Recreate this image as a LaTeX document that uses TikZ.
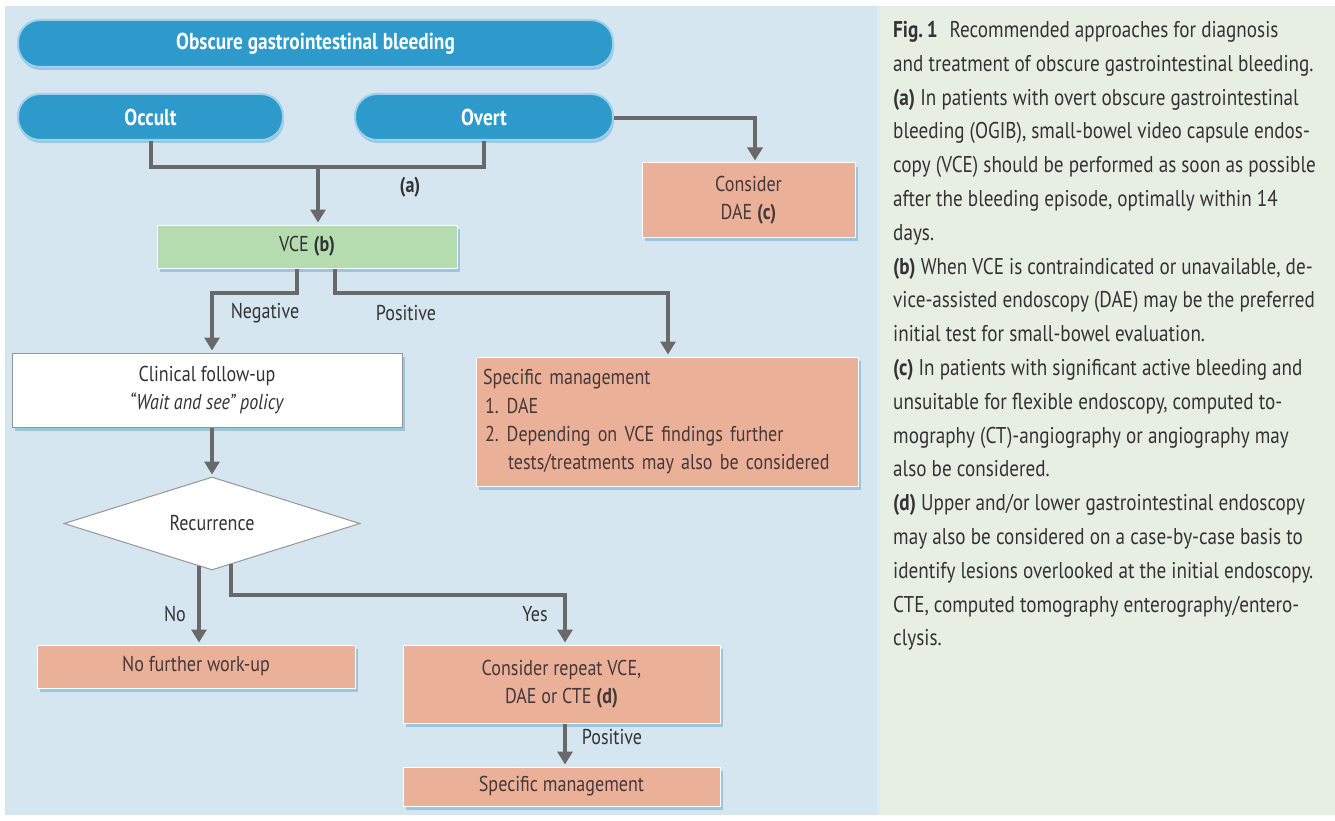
\documentclass[tikz,border=0pt]{standalone}
\usepackage{fontspec}
\setmainfont{PT Sans}[FakeStretch=0.84]
\usetikzlibrary{shapes.geometric,arrows.meta,shadows}
\definecolor{panelblue}{HTML}{D5E6F0}
\definecolor{panelgreen}{HTML}{E7EFE4}
\definecolor{pillblue}{HTML}{2D9ACB}
\definecolor{pillborder}{HTML}{9AD2EC}
\definecolor{salmon}{HTML}{EBB198}
\definecolor{vcegreen}{HTML}{B4DCAF}
\definecolor{arrowgray}{HTML}{696969}
\definecolor{shadowblue}{HTML}{8FBFDA}
\definecolor{textgray}{HTML}{333333}
\definecolor{boxtext}{HTML}{45383A}
\begin{document}
\begin{tikzpicture}[x=1pt,y=-1pt,
  txt/.style={font=\fontsize{21.5}{28}\selectfont, text=textgray},
  pill/.style={rounded corners=22pt, fill=pillblue, draw=pillborder, line width=2pt,
    text=white, font=\bfseries\fontsize{23}{26}\selectfont, inner sep=0pt,
    drop shadow={shadow xshift=1pt,shadow yshift=-3pt,fill=shadowblue,opacity=0.8}},
  boxbase/.style={rectangle, draw=white, line width=1pt, inner sep=4pt, align=center,
    font=\fontsize{21.5}{28}\selectfont,
    drop shadow={shadow xshift=3pt,shadow yshift=-4pt,fill=shadowblue,opacity=0.8}},
  salmonbox/.style={boxbase, fill=salmon, text=boxtext},
  greenbox/.style={boxbase, fill=vcegreen, text=textgray},
  whitebox/.style={boxbase, fill=white, draw=arrowgray!70, text=textgray},
  flow/.style={draw=arrowgray, line width=4pt, -{Triangle[width=15pt,length=13pt]}, shorten >=2pt},
  plainline/.style={draw=arrowgray, line width=4pt},
  lbl/.style={txt, inner sep=0pt}
]
\useasboundingbox (0,0) rectangle (1335,821);
\fill[white] (0,0) rectangle (1335,821);
\fill[panelblue] (5,6) rectangle (877,815);
\fill[panelgreen] (880,6) rectangle (1335,815);
\fill[panelblue!80!white] (877,6) rectangle (880,815);

% pills
\node[pill, minimum width=595pt, minimum height=47pt] (top) at (315.5,43.5) {Obscure gastrointestinal bleeding};
\node[pill, minimum width=265pt, minimum height=46pt] (occult) at (150.5,117) {Occult};
\node[pill, minimum width=258pt, minimum height=46pt] (overt) at (484,117) {Overt};

% boxes
\node[salmonbox, minimum width=213pt, minimum height=74pt] (dae) at (748.5,200) {Consider\\DAE \textbf{(c)}};
\node[greenbox, minimum width=300pt, minimum height=43pt] (vce) at (307,246.5) {VCE \textbf{(b)}};
\node[whitebox, minimum width=390pt, minimum height=74pt] (clin) at (207,390) {Clinical follow-up\\\textit{“Wait and see” policy}};
\node[salmonbox, minimum width=382pt, minimum height=129pt, align=left, text width=368pt] (spec1) at (667,421.5)
  {Specific management\\[1pt]
   \hspace*{2pt}1.\hspace{8pt}DAE\\
   \hspace*{2pt}2.\hspace{8pt}Depending on VCE findings further\\
   \hspace*{25pt}tests/treatments may also be considered};
\node[diamond, draw=arrowgray!70, line width=1pt, fill=white, minimum width=296pt, minimum height=93pt,
  inner sep=0pt, aspect=3.2, font=\fontsize{21.5}{28}\selectfont, text=textgray] (rec) at (212,523.5) {Recurrence};
\node[salmonbox, minimum width=318pt, minimum height=43pt] (nofur) at (196,666.5) {No further work-up};
\node[salmonbox, minimum width=317pt, minimum height=78pt] (rep) at (561.5,684) {Consider repeat VCE,\\DAE or CTE \textbf{(d)}};
\node[salmonbox, minimum width=317pt, minimum height=39pt] (spec2) at (561.5,786.5) {Specific management};

% connectors
\coordinate (j1) at (318,167);
\draw[plainline] (occult.south) |- (j1) -| (overt.south);
\draw[flow] (j1) -- (vce.north -| j1);
\node[lbl, font=\bfseries\fontsize{21.5}{28}\selectfont] (la) at (410,187) {(a)};

\coordinate (ov1) at (755,118);
\draw[flow] (overt.east |- ov1) -- (ov1) -- (dae.north -| ov1);

\coordinate (cNeg) at (297,293);
\coordinate (cNeg2) at (212,293);
\draw[flow] (vce.south -| cNeg) -- (cNeg) -- (cNeg2) -- (clin.north -| cNeg2);
\node[lbl] (lneg) at (265,313) {Negative};

\coordinate (cPos) at (335,293);
\coordinate (cPos2) at (668,293);
\draw[flow] (vce.south -| cPos) -- (cPos) -- (cPos2) -- (spec1.north -| cPos2);
\node[lbl] (lpos) at (406,313) {Positive};

\draw[flow] (clin.south -| rec.north) -- (rec.north);

\coordinate (cNo) at (199,566);
\draw[flow] (cNo) -- (nofur.north -| cNo);
\node[lbl] (lno) at (175,614) {No};

\coordinate (cYes) at (231,564);
\coordinate (cYes1) at (231,595);
\coordinate (cYes2) at (565,595);
\draw[flow] (cYes) -- (cYes1) -- (cYes2) -- (rep.north -| cYes2);
\node[lbl] (lyes) at (535,614) {Yes};

\coordinate (cP) at (565,0);
\draw[flow] (rep.south -| cP) -- (spec2.north -| cP);
\node[lbl] (lpos2) at (612,737) {Positive};

% caption
\node[anchor=north west, inner sep=0pt, align=left, text=textgray,
  font=\fontsize{22.8}{33.8}\selectfont] (caption) at (893,21) {%
\textbf{Fig.\,1}\hspace{12pt}Recommended approaches for diagnosis\\
and treatment of obscure gastrointestinal bleeding.\\
\textbf{(a)} In patients with overt obscure gastrointestinal\\
bleeding (OGIB), small-bowel video capsule endos-\\
copy (VCE) should be performed as soon as possible\\
after the bleeding episode, optimally within 14\\
days.\\
\textbf{(b)} When VCE is contraindicated or unavailable, de-\\
vice-assisted endoscopy (DAE) may be the preferred\\
initial test for small-bowel evaluation.\\
\textbf{(c)} In patients with significant active bleeding and\\
unsuitable for flexible endoscopy, computed to-\\
mography (CT)-angiography or angiography may\\
also be considered.\\
\textbf{(d)} Upper and/or lower gastrointestinal endoscopy\\
may also be considered on a case-by-case basis to\\
identify lesions overlooked at the initial endoscopy.\\
CTE, computed tomography enterography/entero-\\
clysis.};
\end{tikzpicture}
\end{document}
